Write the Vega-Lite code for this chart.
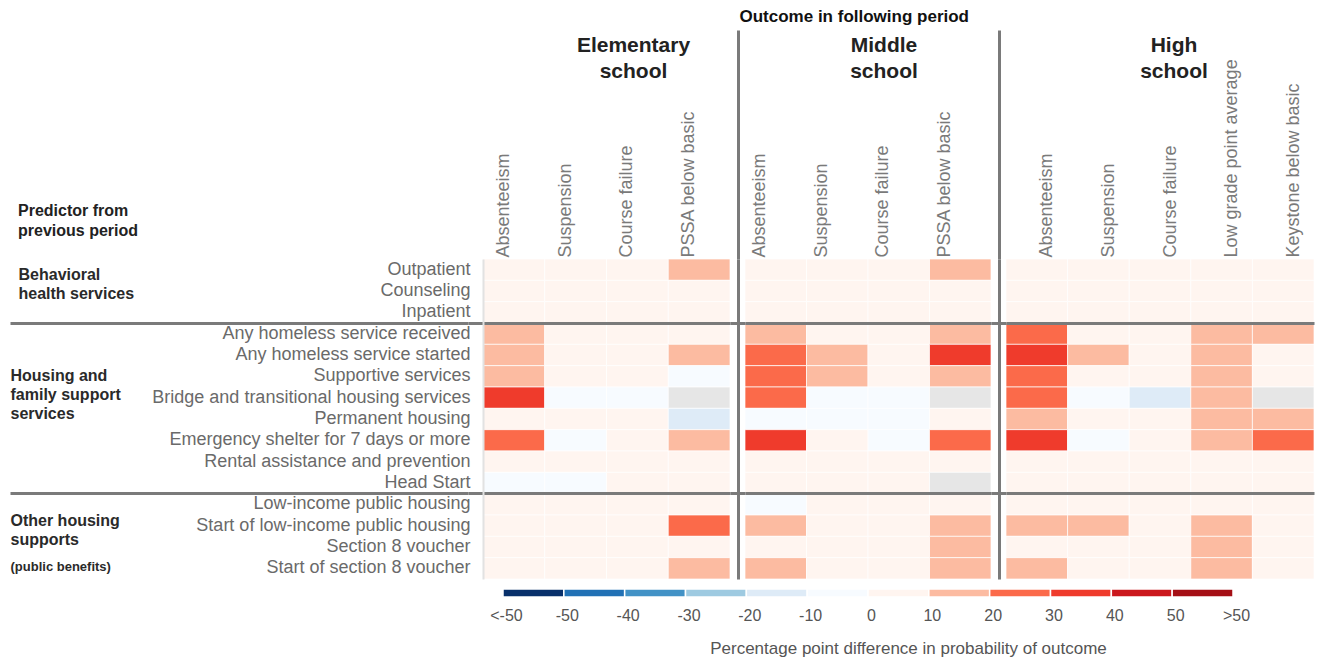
{
  "$schema": "https://vega.github.io/schema/vega-lite/v6.json",
  "padding": {"left": 10, "top": 7, "right": 5, "bottom": 2},
  "background": "white",
  "config": {
    "font": "Liberation Sans",
    "view": {"stroke": null}
  },
  "title": {
    "text": "Outcome in following period",
    "fontSize": 17,
    "fontWeight": "bold",
    "color": "#111111",
    "anchor": "middle",
    "dx": 192,
    "offset": 3
  },
  "datasets": {
    "cells": [
      {"level": "Elementary", "predictor": "Outpatient", "outcome": "Absenteeism", "pp": 4},
      {"level": "Elementary", "predictor": "Outpatient", "outcome": "Suspension", "pp": 4},
      {"level": "Elementary", "predictor": "Outpatient", "outcome": "Course failure", "pp": 4},
      {"level": "Elementary", "predictor": "Outpatient", "outcome": "PSSA below basic", "pp": 15},
      {"level": "Elementary", "predictor": "Counseling", "outcome": "Absenteeism", "pp": 4},
      {"level": "Elementary", "predictor": "Counseling", "outcome": "Suspension", "pp": 4},
      {"level": "Elementary", "predictor": "Counseling", "outcome": "Course failure", "pp": 4},
      {"level": "Elementary", "predictor": "Counseling", "outcome": "PSSA below basic", "pp": 4},
      {"level": "Elementary", "predictor": "Inpatient", "outcome": "Absenteeism", "pp": 4},
      {"level": "Elementary", "predictor": "Inpatient", "outcome": "Suspension", "pp": 4},
      {"level": "Elementary", "predictor": "Inpatient", "outcome": "Course failure", "pp": 4},
      {"level": "Elementary", "predictor": "Inpatient", "outcome": "PSSA below basic", "pp": 4},
      {"level": "Elementary", "predictor": "Any homeless service received", "outcome": "Absenteeism", "pp": 15},
      {"level": "Elementary", "predictor": "Any homeless service received", "outcome": "Suspension", "pp": 4},
      {"level": "Elementary", "predictor": "Any homeless service received", "outcome": "Course failure", "pp": 4},
      {"level": "Elementary", "predictor": "Any homeless service received", "outcome": "PSSA below basic", "pp": 4},
      {"level": "Elementary", "predictor": "Any homeless service started", "outcome": "Absenteeism", "pp": 15},
      {"level": "Elementary", "predictor": "Any homeless service started", "outcome": "Suspension", "pp": 4},
      {"level": "Elementary", "predictor": "Any homeless service started", "outcome": "Course failure", "pp": 4},
      {"level": "Elementary", "predictor": "Any homeless service started", "outcome": "PSSA below basic", "pp": 15},
      {"level": "Elementary", "predictor": "Supportive services", "outcome": "Absenteeism", "pp": 15},
      {"level": "Elementary", "predictor": "Supportive services", "outcome": "Suspension", "pp": 4},
      {"level": "Elementary", "predictor": "Supportive services", "outcome": "Course failure", "pp": 4},
      {"level": "Elementary", "predictor": "Supportive services", "outcome": "PSSA below basic", "pp": -4},
      {"level": "Elementary", "predictor": "Bridge and transitional housing services", "outcome": "Absenteeism", "pp": 35},
      {"level": "Elementary", "predictor": "Bridge and transitional housing services", "outcome": "Suspension", "pp": -4},
      {"level": "Elementary", "predictor": "Bridge and transitional housing services", "outcome": "Course failure", "pp": -4},
      {"level": "Elementary", "predictor": "Bridge and transitional housing services", "outcome": "PSSA below basic", "pp": null},
      {"level": "Elementary", "predictor": "Permanent housing", "outcome": "Absenteeism", "pp": 4},
      {"level": "Elementary", "predictor": "Permanent housing", "outcome": "Suspension", "pp": 4},
      {"level": "Elementary", "predictor": "Permanent housing", "outcome": "Course failure", "pp": 4},
      {"level": "Elementary", "predictor": "Permanent housing", "outcome": "PSSA below basic", "pp": -15},
      {"level": "Elementary", "predictor": "Emergency shelter for 7 days or more", "outcome": "Absenteeism", "pp": 25},
      {"level": "Elementary", "predictor": "Emergency shelter for 7 days or more", "outcome": "Suspension", "pp": -4},
      {"level": "Elementary", "predictor": "Emergency shelter for 7 days or more", "outcome": "Course failure", "pp": 4},
      {"level": "Elementary", "predictor": "Emergency shelter for 7 days or more", "outcome": "PSSA below basic", "pp": 15},
      {"level": "Elementary", "predictor": "Rental assistance and prevention", "outcome": "Absenteeism", "pp": 4},
      {"level": "Elementary", "predictor": "Rental assistance and prevention", "outcome": "Suspension", "pp": 4},
      {"level": "Elementary", "predictor": "Rental assistance and prevention", "outcome": "Course failure", "pp": 4},
      {"level": "Elementary", "predictor": "Rental assistance and prevention", "outcome": "PSSA below basic", "pp": 4},
      {"level": "Elementary", "predictor": "Head Start", "outcome": "Absenteeism", "pp": -4},
      {"level": "Elementary", "predictor": "Head Start", "outcome": "Suspension", "pp": -4},
      {"level": "Elementary", "predictor": "Head Start", "outcome": "Course failure", "pp": 4},
      {"level": "Elementary", "predictor": "Head Start", "outcome": "PSSA below basic", "pp": 4},
      {"level": "Elementary", "predictor": "Low-income public housing", "outcome": "Absenteeism", "pp": 4},
      {"level": "Elementary", "predictor": "Low-income public housing", "outcome": "Suspension", "pp": 4},
      {"level": "Elementary", "predictor": "Low-income public housing", "outcome": "Course failure", "pp": 4},
      {"level": "Elementary", "predictor": "Low-income public housing", "outcome": "PSSA below basic", "pp": 4},
      {"level": "Elementary", "predictor": "Start of low-income public housing", "outcome": "Absenteeism", "pp": 4},
      {"level": "Elementary", "predictor": "Start of low-income public housing", "outcome": "Suspension", "pp": 4},
      {"level": "Elementary", "predictor": "Start of low-income public housing", "outcome": "Course failure", "pp": 4},
      {"level": "Elementary", "predictor": "Start of low-income public housing", "outcome": "PSSA below basic", "pp": 25},
      {"level": "Elementary", "predictor": "Section 8 voucher", "outcome": "Absenteeism", "pp": 4},
      {"level": "Elementary", "predictor": "Section 8 voucher", "outcome": "Suspension", "pp": 4},
      {"level": "Elementary", "predictor": "Section 8 voucher", "outcome": "Course failure", "pp": 4},
      {"level": "Elementary", "predictor": "Section 8 voucher", "outcome": "PSSA below basic", "pp": 4},
      {"level": "Elementary", "predictor": "Start of section 8 voucher", "outcome": "Absenteeism", "pp": 4},
      {"level": "Elementary", "predictor": "Start of section 8 voucher", "outcome": "Suspension", "pp": 4},
      {"level": "Elementary", "predictor": "Start of section 8 voucher", "outcome": "Course failure", "pp": 4},
      {"level": "Elementary", "predictor": "Start of section 8 voucher", "outcome": "PSSA below basic", "pp": 15},

      {"level": "Middle", "predictor": "Outpatient", "outcome": "Absenteeism", "pp": 4},
      {"level": "Middle", "predictor": "Outpatient", "outcome": "Suspension", "pp": 4},
      {"level": "Middle", "predictor": "Outpatient", "outcome": "Course failure", "pp": 4},
      {"level": "Middle", "predictor": "Outpatient", "outcome": "PSSA below basic", "pp": 15},
      {"level": "Middle", "predictor": "Counseling", "outcome": "Absenteeism", "pp": 4},
      {"level": "Middle", "predictor": "Counseling", "outcome": "Suspension", "pp": 4},
      {"level": "Middle", "predictor": "Counseling", "outcome": "Course failure", "pp": 4},
      {"level": "Middle", "predictor": "Counseling", "outcome": "PSSA below basic", "pp": 4},
      {"level": "Middle", "predictor": "Inpatient", "outcome": "Absenteeism", "pp": 4},
      {"level": "Middle", "predictor": "Inpatient", "outcome": "Suspension", "pp": 4},
      {"level": "Middle", "predictor": "Inpatient", "outcome": "Course failure", "pp": 4},
      {"level": "Middle", "predictor": "Inpatient", "outcome": "PSSA below basic", "pp": 4},
      {"level": "Middle", "predictor": "Any homeless service received", "outcome": "Absenteeism", "pp": 15},
      {"level": "Middle", "predictor": "Any homeless service received", "outcome": "Suspension", "pp": 4},
      {"level": "Middle", "predictor": "Any homeless service received", "outcome": "Course failure", "pp": 4},
      {"level": "Middle", "predictor": "Any homeless service received", "outcome": "PSSA below basic", "pp": 15},
      {"level": "Middle", "predictor": "Any homeless service started", "outcome": "Absenteeism", "pp": 25},
      {"level": "Middle", "predictor": "Any homeless service started", "outcome": "Suspension", "pp": 15},
      {"level": "Middle", "predictor": "Any homeless service started", "outcome": "Course failure", "pp": 4},
      {"level": "Middle", "predictor": "Any homeless service started", "outcome": "PSSA below basic", "pp": 35},
      {"level": "Middle", "predictor": "Supportive services", "outcome": "Absenteeism", "pp": 25},
      {"level": "Middle", "predictor": "Supportive services", "outcome": "Suspension", "pp": 15},
      {"level": "Middle", "predictor": "Supportive services", "outcome": "Course failure", "pp": 4},
      {"level": "Middle", "predictor": "Supportive services", "outcome": "PSSA below basic", "pp": 15},
      {"level": "Middle", "predictor": "Bridge and transitional housing services", "outcome": "Absenteeism", "pp": 25},
      {"level": "Middle", "predictor": "Bridge and transitional housing services", "outcome": "Suspension", "pp": -4},
      {"level": "Middle", "predictor": "Bridge and transitional housing services", "outcome": "Course failure", "pp": -4},
      {"level": "Middle", "predictor": "Bridge and transitional housing services", "outcome": "PSSA below basic", "pp": null},
      {"level": "Middle", "predictor": "Permanent housing", "outcome": "Absenteeism", "pp": -4},
      {"level": "Middle", "predictor": "Permanent housing", "outcome": "Suspension", "pp": -4},
      {"level": "Middle", "predictor": "Permanent housing", "outcome": "Course failure", "pp": -4},
      {"level": "Middle", "predictor": "Permanent housing", "outcome": "PSSA below basic", "pp": 4},
      {"level": "Middle", "predictor": "Emergency shelter for 7 days or more", "outcome": "Absenteeism", "pp": 35},
      {"level": "Middle", "predictor": "Emergency shelter for 7 days or more", "outcome": "Suspension", "pp": 4},
      {"level": "Middle", "predictor": "Emergency shelter for 7 days or more", "outcome": "Course failure", "pp": -4},
      {"level": "Middle", "predictor": "Emergency shelter for 7 days or more", "outcome": "PSSA below basic", "pp": 25},
      {"level": "Middle", "predictor": "Rental assistance and prevention", "outcome": "Absenteeism", "pp": 4},
      {"level": "Middle", "predictor": "Rental assistance and prevention", "outcome": "Suspension", "pp": 4},
      {"level": "Middle", "predictor": "Rental assistance and prevention", "outcome": "Course failure", "pp": 4},
      {"level": "Middle", "predictor": "Rental assistance and prevention", "outcome": "PSSA below basic", "pp": 4},
      {"level": "Middle", "predictor": "Head Start", "outcome": "Absenteeism", "pp": 4},
      {"level": "Middle", "predictor": "Head Start", "outcome": "Suspension", "pp": 4},
      {"level": "Middle", "predictor": "Head Start", "outcome": "Course failure", "pp": 4},
      {"level": "Middle", "predictor": "Head Start", "outcome": "PSSA below basic", "pp": null},
      {"level": "Middle", "predictor": "Low-income public housing", "outcome": "Absenteeism", "pp": -4},
      {"level": "Middle", "predictor": "Low-income public housing", "outcome": "Suspension", "pp": 4},
      {"level": "Middle", "predictor": "Low-income public housing", "outcome": "Course failure", "pp": 4},
      {"level": "Middle", "predictor": "Low-income public housing", "outcome": "PSSA below basic", "pp": 4},
      {"level": "Middle", "predictor": "Start of low-income public housing", "outcome": "Absenteeism", "pp": 15},
      {"level": "Middle", "predictor": "Start of low-income public housing", "outcome": "Suspension", "pp": 4},
      {"level": "Middle", "predictor": "Start of low-income public housing", "outcome": "Course failure", "pp": 4},
      {"level": "Middle", "predictor": "Start of low-income public housing", "outcome": "PSSA below basic", "pp": 15},
      {"level": "Middle", "predictor": "Section 8 voucher", "outcome": "Absenteeism", "pp": 4},
      {"level": "Middle", "predictor": "Section 8 voucher", "outcome": "Suspension", "pp": 4},
      {"level": "Middle", "predictor": "Section 8 voucher", "outcome": "Course failure", "pp": 4},
      {"level": "Middle", "predictor": "Section 8 voucher", "outcome": "PSSA below basic", "pp": 15},
      {"level": "Middle", "predictor": "Start of section 8 voucher", "outcome": "Absenteeism", "pp": 15},
      {"level": "Middle", "predictor": "Start of section 8 voucher", "outcome": "Suspension", "pp": 4},
      {"level": "Middle", "predictor": "Start of section 8 voucher", "outcome": "Course failure", "pp": 4},
      {"level": "Middle", "predictor": "Start of section 8 voucher", "outcome": "PSSA below basic", "pp": 15},

      {"level": "High", "predictor": "Outpatient", "outcome": "Absenteeism", "pp": 4},
      {"level": "High", "predictor": "Outpatient", "outcome": "Suspension", "pp": 4},
      {"level": "High", "predictor": "Outpatient", "outcome": "Course failure", "pp": 4},
      {"level": "High", "predictor": "Outpatient", "outcome": "Low grade point average", "pp": 4},
      {"level": "High", "predictor": "Outpatient", "outcome": "Keystone below basic", "pp": 4},
      {"level": "High", "predictor": "Counseling", "outcome": "Absenteeism", "pp": 4},
      {"level": "High", "predictor": "Counseling", "outcome": "Suspension", "pp": 4},
      {"level": "High", "predictor": "Counseling", "outcome": "Course failure", "pp": 4},
      {"level": "High", "predictor": "Counseling", "outcome": "Low grade point average", "pp": 4},
      {"level": "High", "predictor": "Counseling", "outcome": "Keystone below basic", "pp": 4},
      {"level": "High", "predictor": "Inpatient", "outcome": "Absenteeism", "pp": 4},
      {"level": "High", "predictor": "Inpatient", "outcome": "Suspension", "pp": 4},
      {"level": "High", "predictor": "Inpatient", "outcome": "Course failure", "pp": 4},
      {"level": "High", "predictor": "Inpatient", "outcome": "Low grade point average", "pp": 4},
      {"level": "High", "predictor": "Inpatient", "outcome": "Keystone below basic", "pp": 4},
      {"level": "High", "predictor": "Any homeless service received", "outcome": "Absenteeism", "pp": 25},
      {"level": "High", "predictor": "Any homeless service received", "outcome": "Suspension", "pp": 4},
      {"level": "High", "predictor": "Any homeless service received", "outcome": "Course failure", "pp": 4},
      {"level": "High", "predictor": "Any homeless service received", "outcome": "Low grade point average", "pp": 15},
      {"level": "High", "predictor": "Any homeless service received", "outcome": "Keystone below basic", "pp": 15},
      {"level": "High", "predictor": "Any homeless service started", "outcome": "Absenteeism", "pp": 35},
      {"level": "High", "predictor": "Any homeless service started", "outcome": "Suspension", "pp": 15},
      {"level": "High", "predictor": "Any homeless service started", "outcome": "Course failure", "pp": 4},
      {"level": "High", "predictor": "Any homeless service started", "outcome": "Low grade point average", "pp": 15},
      {"level": "High", "predictor": "Any homeless service started", "outcome": "Keystone below basic", "pp": 4},
      {"level": "High", "predictor": "Supportive services", "outcome": "Absenteeism", "pp": 25},
      {"level": "High", "predictor": "Supportive services", "outcome": "Suspension", "pp": 4},
      {"level": "High", "predictor": "Supportive services", "outcome": "Course failure", "pp": 4},
      {"level": "High", "predictor": "Supportive services", "outcome": "Low grade point average", "pp": 15},
      {"level": "High", "predictor": "Supportive services", "outcome": "Keystone below basic", "pp": 4},
      {"level": "High", "predictor": "Bridge and transitional housing services", "outcome": "Absenteeism", "pp": 25},
      {"level": "High", "predictor": "Bridge and transitional housing services", "outcome": "Suspension", "pp": -4},
      {"level": "High", "predictor": "Bridge and transitional housing services", "outcome": "Course failure", "pp": -15},
      {"level": "High", "predictor": "Bridge and transitional housing services", "outcome": "Low grade point average", "pp": 15},
      {"level": "High", "predictor": "Bridge and transitional housing services", "outcome": "Keystone below basic", "pp": null},
      {"level": "High", "predictor": "Permanent housing", "outcome": "Absenteeism", "pp": 15},
      {"level": "High", "predictor": "Permanent housing", "outcome": "Suspension", "pp": 4},
      {"level": "High", "predictor": "Permanent housing", "outcome": "Course failure", "pp": 4},
      {"level": "High", "predictor": "Permanent housing", "outcome": "Low grade point average", "pp": 15},
      {"level": "High", "predictor": "Permanent housing", "outcome": "Keystone below basic", "pp": 15},
      {"level": "High", "predictor": "Emergency shelter for 7 days or more", "outcome": "Absenteeism", "pp": 35},
      {"level": "High", "predictor": "Emergency shelter for 7 days or more", "outcome": "Suspension", "pp": -4},
      {"level": "High", "predictor": "Emergency shelter for 7 days or more", "outcome": "Course failure", "pp": 4},
      {"level": "High", "predictor": "Emergency shelter for 7 days or more", "outcome": "Low grade point average", "pp": 15},
      {"level": "High", "predictor": "Emergency shelter for 7 days or more", "outcome": "Keystone below basic", "pp": 25},
      {"level": "High", "predictor": "Rental assistance and prevention", "outcome": "Absenteeism", "pp": 4},
      {"level": "High", "predictor": "Rental assistance and prevention", "outcome": "Suspension", "pp": 4},
      {"level": "High", "predictor": "Rental assistance and prevention", "outcome": "Course failure", "pp": 4},
      {"level": "High", "predictor": "Rental assistance and prevention", "outcome": "Low grade point average", "pp": 4},
      {"level": "High", "predictor": "Rental assistance and prevention", "outcome": "Keystone below basic", "pp": 4},
      {"level": "High", "predictor": "Head Start", "outcome": "Absenteeism", "pp": 4},
      {"level": "High", "predictor": "Head Start", "outcome": "Suspension", "pp": 4},
      {"level": "High", "predictor": "Head Start", "outcome": "Course failure", "pp": 4},
      {"level": "High", "predictor": "Head Start", "outcome": "Low grade point average", "pp": 4},
      {"level": "High", "predictor": "Head Start", "outcome": "Keystone below basic", "pp": 4},
      {"level": "High", "predictor": "Low-income public housing", "outcome": "Absenteeism", "pp": 4},
      {"level": "High", "predictor": "Low-income public housing", "outcome": "Suspension", "pp": 4},
      {"level": "High", "predictor": "Low-income public housing", "outcome": "Course failure", "pp": 4},
      {"level": "High", "predictor": "Low-income public housing", "outcome": "Low grade point average", "pp": 4},
      {"level": "High", "predictor": "Low-income public housing", "outcome": "Keystone below basic", "pp": 4},
      {"level": "High", "predictor": "Start of low-income public housing", "outcome": "Absenteeism", "pp": 15},
      {"level": "High", "predictor": "Start of low-income public housing", "outcome": "Suspension", "pp": 15},
      {"level": "High", "predictor": "Start of low-income public housing", "outcome": "Course failure", "pp": 4},
      {"level": "High", "predictor": "Start of low-income public housing", "outcome": "Low grade point average", "pp": 15},
      {"level": "High", "predictor": "Start of low-income public housing", "outcome": "Keystone below basic", "pp": 4},
      {"level": "High", "predictor": "Section 8 voucher", "outcome": "Absenteeism", "pp": 4},
      {"level": "High", "predictor": "Section 8 voucher", "outcome": "Suspension", "pp": 4},
      {"level": "High", "predictor": "Section 8 voucher", "outcome": "Course failure", "pp": 4},
      {"level": "High", "predictor": "Section 8 voucher", "outcome": "Low grade point average", "pp": 15},
      {"level": "High", "predictor": "Section 8 voucher", "outcome": "Keystone below basic", "pp": 4},
      {"level": "High", "predictor": "Start of section 8 voucher", "outcome": "Absenteeism", "pp": 15},
      {"level": "High", "predictor": "Start of section 8 voucher", "outcome": "Suspension", "pp": 4},
      {"level": "High", "predictor": "Start of section 8 voucher", "outcome": "Course failure", "pp": 4},
      {"level": "High", "predictor": "Start of section 8 voucher", "outcome": "Low grade point average", "pp": 15},
      {"level": "High", "predictor": "Start of section 8 voucher", "outcome": "Keystone below basic", "pp": 4}
    ],
    "key": [
      {"lo": -60, "hi": -50, "pp": -55},
      {"lo": -50, "hi": -40, "pp": -45},
      {"lo": -40, "hi": -30, "pp": -35},
      {"lo": -30, "hi": -20, "pp": -25},
      {"lo": -20, "hi": -10, "pp": -15},
      {"lo": -10, "hi": 0, "pp": -5},
      {"lo": 0, "hi": 10, "pp": 5},
      {"lo": 10, "hi": 20, "pp": 15},
      {"lo": 20, "hi": 30, "pp": 25},
      {"lo": 30, "hi": 40, "pp": 35},
      {"lo": 40, "hi": 50, "pp": 45},
      {"lo": 50, "hi": 60, "pp": 55}
    ]
  },
  "columns": 4,
  "bounds": "flush",
  "spacing": {"row": 10, "column": 15},
  "concat": [
    {
      "width": 458,
      "height": 320,
      "title": {
        "text": ["Predictor from", "previous period"],
        "anchor": "start",
        "frame": "group",
        "fontSize": 16,
        "fontWeight": "bold",
        "color": "#222222",
        "lineHeight": 20,
        "dx": 8,
        "offset": 20
      },
      "data": {"name": "cells"},
      "transform": [{"filter": "datum.level === 'Elementary'"}],
      "mark": {"type": "rect", "opacity": 0},
      "encoding": {
        "y": {
          "field": "predictor",
          "type": "nominal",
          "scale": {
            "domain": ["Outpatient", "Counseling", "Inpatient", "Any homeless service received", "Any homeless service started", "Supportive services", "Bridge and transitional housing services", "Permanent housing", "Emergency shelter for 7 days or more", "Rental assistance and prevention", "Head Start", "Low-income public housing", "Start of low-income public housing", "Section 8 voucher", "Start of section 8 voucher"],
            "paddingInner": 0,
            "paddingOuter": 0
          },
          "axis": {
            "orient": "left",
            "title": null,
            "domain": false,
            "ticks": false,
            "bandPosition": 0,
            "labelAlign": "left",
            "labelBaseline": "middle",
            "labelFontWeight": "bold",
            "labelColor": "#2a2a2a",
            "labelLimit": 400,
            "labelLineHeight": 19,
            "labelFontSize": {"condition": {"test": "datum.value === 'Start of section 8 voucher'", "value": 13}, "value": 16},
            "labelPadding": {"condition": {"test": "datum.value === 'Outpatient'", "value": -8}, "value": 0},
            "labelOffset": {
              "condition": [
                {"test": "datum.value === 'Outpatient'", "value": 5.5},
                {"test": "datum.value === 'Supportive services'", "value": 0},
                {"test": "datum.value === 'Start of low-income public housing'", "value": -5},
                {"test": "datum.value === 'Start of section 8 voucher'", "value": -1}
              ],
              "value": 0
            },
            "labelExpr": "datum.value === 'Outpatient' ? ['Behavioral', 'health services'] : datum.value === 'Supportive services' ? ['Housing and', 'family support', 'services'] : datum.value === 'Start of low-income public housing' ? ['Other housing', 'supports'] : datum.value === 'Start of section 8 voucher' ? '(public benefits)' : ''",
            "grid": true,
            "gridWidth": 3,
            "gridColor": {"condition": {"test": "datum.value === 'Any homeless service received' || datum.value === 'Low-income public housing'", "value": "#7a7a7a"}, "value": "transparent"},
            "zindex": 1
          }
        }
      }
    },
    {
      "width": 247,
      "height": 320,
      "title": {"text": ["Elementary", "school"], "frame": "group", "anchor": "middle", "fontSize": 21, "fontWeight": "bold", "color": "#222222", "lineHeight": 26, "dx": 27, "offset": 28},
      "data": {"name": "cells"},
      "transform": [{"filter": "datum.level === 'Elementary'"}],
      "mark": {"type": "rect", "invalid": null, "stroke": "#ffffff", "strokeWidth": 1, "strokeOpacity": 0.7},
      "encoding": {
        "x": {
          "field": "outcome",
          "type": "nominal",
          "scale": {"domain": ["Absenteeism", "Suspension", "Course failure", "PSSA below basic"], "paddingInner": 0, "paddingOuter": 0},
          "axis": {"orient": "top", "title": null, "domain": false, "ticks": false, "grid": false, "labelAngle": -90, "labelAlign": "left", "labelBaseline": "middle", "labelPadding": 2, "labelOffset": -10, "labelFontSize": 18, "labelColor": "#7a7a7a", "labelLimit": 300}
        },
        "y": {
          "field": "predictor",
          "type": "nominal",
          "scale": {
            "domain": ["Outpatient", "Counseling", "Inpatient", "Any homeless service received", "Any homeless service started", "Supportive services", "Bridge and transitional housing services", "Permanent housing", "Emergency shelter for 7 days or more", "Rental assistance and prevention", "Head Start", "Low-income public housing", "Start of low-income public housing", "Section 8 voucher", "Start of section 8 voucher"],
            "paddingInner": 0,
            "paddingOuter": 0
          },
          "axis": {
            "orient": "left",
            "title": null,
            "domain": true,
            "domainColor": "#e2e2e2",
            "domainWidth": 2,
            "bandPosition": 0,
            "ticks": true,
            "tickSize": 15,
            "tickWidth": 3,
            "tickColor": {"condition": {"test": "datum.value === 'Any homeless service received' || datum.value === 'Low-income public housing'", "value": "#7a7a7a"}, "value": "transparent"},
            "grid": true,
            "gridWidth": 3,
            "gridColor": {"condition": {"test": "datum.value === 'Any homeless service received' || datum.value === 'Low-income public housing'", "value": "#7a7a7a"}, "value": "transparent"},
            "labelFontSize": 18,
            "labelColor": "#6a6a6a",
            "labelPadding": -2,
            "labelLimit": 400,
            "zindex": 1
          }
        },
        "fill": {
          "condition": {"test": "datum.pp === null", "value": "#e6e6e6"},
          "field": "pp",
          "type": "quantitative",
          "scale": {"type": "threshold", "domain": [-50, -40, -30, -20, -10, 0, 10, 20, 30, 40, 50], "range": ["#08306b", "#2171b5", "#4292c6", "#9ecae1", "#deebf7", "#f7fbff", "#fff5f0", "#fcbba1", "#fb6a4a", "#ef3b2c", "#cb181d", "#a50f15"]},
          "legend": null
        }
      }
    },
    {
      "width": 246,
      "height": 320,
      "title": {"text": ["Middle", "school"], "frame": "group", "anchor": "middle", "fontSize": 21, "fontWeight": "bold", "color": "#222222", "lineHeight": 26, "dx": 16, "offset": -53},
      "data": {"name": "cells"},
      "transform": [{"filter": "datum.level === 'Middle'"}],
      "mark": {"type": "rect", "invalid": null, "stroke": "#ffffff", "strokeWidth": 1, "strokeOpacity": 0.7},
      "encoding": {
        "x": {
          "field": "outcome",
          "type": "nominal",
          "scale": {"domain": ["Absenteeism", "Suspension", "Course failure", "PSSA below basic"], "paddingInner": 0, "paddingOuter": 0},
          "axis": {
            "orient": "top", "title": null, "domain": false,
            "bandPosition": 0, "tickOffset": -7.5,
            "ticks": true, "tickSize": 229, "tickWidth": 3,
            "tickColor": {"condition": {"test": "datum.value === 'Absenteeism'", "value": "#7a7a7a"}, "value": "transparent"},
            "grid": true, "gridWidth": 3,
            "gridColor": {"condition": {"test": "datum.value === 'Absenteeism'", "value": "#7a7a7a"}, "value": "transparent"},
            "labelAngle": -90, "labelAlign": "left", "labelBaseline": "middle", "labelPadding": -227, "labelOffset": -8.5,
            "labelFontSize": 18, "labelColor": "#7a7a7a", "labelLimit": 300,
            "zindex": 1
          }
        },
        "y": {
          "field": "predictor",
          "type": "nominal",
          "scale": {
            "domain": ["Outpatient", "Counseling", "Inpatient", "Any homeless service received", "Any homeless service started", "Supportive services", "Bridge and transitional housing services", "Permanent housing", "Emergency shelter for 7 days or more", "Rental assistance and prevention", "Head Start", "Low-income public housing", "Start of low-income public housing", "Section 8 voucher", "Start of section 8 voucher"],
            "paddingInner": 0,
            "paddingOuter": 0
          },
          "axis": {
            "orient": "left", "title": null, "domain": false, "labels": false,
            "bandPosition": 0,
            "ticks": true, "tickSize": 15, "tickWidth": 3,
            "tickColor": {"condition": {"test": "datum.value === 'Any homeless service received' || datum.value === 'Low-income public housing'", "value": "#7a7a7a"}, "value": "transparent"},
            "grid": true, "gridWidth": 3,
            "gridColor": {"condition": {"test": "datum.value === 'Any homeless service received' || datum.value === 'Low-income public housing'", "value": "#7a7a7a"}, "value": "transparent"},
            "zindex": 1
          }
        },
        "fill": {
          "condition": {"test": "datum.pp === null", "value": "#e6e6e6"},
          "field": "pp",
          "type": "quantitative",
          "scale": {"type": "threshold", "domain": [-50, -40, -30, -20, -10, 0, 10, 20, 30, 40, 50], "range": ["#08306b", "#2171b5", "#4292c6", "#9ecae1", "#deebf7", "#f7fbff", "#fff5f0", "#fcbba1", "#fb6a4a", "#ef3b2c", "#cb181d", "#a50f15"]},
          "legend": null
        }
      }
    },
    {
      "width": 308,
      "height": 320,
      "title": {"text": ["High", "school"], "frame": "group", "anchor": "middle", "fontSize": 21, "fontWeight": "bold", "color": "#222222", "lineHeight": 26, "dx": 14, "offset": -53},
      "data": {"name": "cells"},
      "transform": [{"filter": "datum.level === 'High'"}],
      "mark": {"type": "rect", "invalid": null, "stroke": "#ffffff", "strokeWidth": 1, "strokeOpacity": 0.7},
      "encoding": {
        "x": {
          "field": "outcome",
          "type": "nominal",
          "scale": {"domain": ["Absenteeism", "Suspension", "Course failure", "Low grade point average", "Keystone below basic"], "paddingInner": 0, "paddingOuter": 0},
          "axis": {
            "orient": "top", "title": null, "domain": false,
            "bandPosition": 0, "tickOffset": -7.5,
            "ticks": true, "tickSize": 229, "tickWidth": 3,
            "tickColor": {"condition": {"test": "datum.value === 'Absenteeism'", "value": "#7a7a7a"}, "value": "transparent"},
            "grid": true, "gridWidth": 3,
            "gridColor": {"condition": {"test": "datum.value === 'Absenteeism'", "value": "#7a7a7a"}, "value": "transparent"},
            "labelAngle": -90, "labelAlign": "left", "labelBaseline": "middle", "labelPadding": -227, "labelOffset": 17.5,
            "labelFontSize": 18, "labelColor": "#7a7a7a", "labelLimit": 300,
            "zindex": 1
          }
        },
        "y": {
          "field": "predictor",
          "type": "nominal",
          "scale": {
            "domain": ["Outpatient", "Counseling", "Inpatient", "Any homeless service received", "Any homeless service started", "Supportive services", "Bridge and transitional housing services", "Permanent housing", "Emergency shelter for 7 days or more", "Rental assistance and prevention", "Head Start", "Low-income public housing", "Start of low-income public housing", "Section 8 voucher", "Start of section 8 voucher"],
            "paddingInner": 0,
            "paddingOuter": 0
          },
          "axis": {
            "orient": "left", "title": null, "domain": false, "labels": false,
            "bandPosition": 0,
            "ticks": true, "tickSize": 15, "tickWidth": 3,
            "tickColor": {"condition": {"test": "datum.value === 'Any homeless service received' || datum.value === 'Low-income public housing'", "value": "#7a7a7a"}, "value": "transparent"},
            "grid": true, "gridWidth": 3,
            "gridColor": {"condition": {"test": "datum.value === 'Any homeless service received' || datum.value === 'Low-income public housing'", "value": "#7a7a7a"}, "value": "transparent"},
            "zindex": 1
          }
        },
        "fill": {
          "condition": {"test": "datum.pp === null", "value": "#e6e6e6"},
          "field": "pp",
          "type": "quantitative",
          "scale": {"type": "threshold", "domain": [-50, -40, -30, -20, -10, 0, 10, 20, 30, 40, 50], "range": ["#08306b", "#2171b5", "#4292c6", "#9ecae1", "#deebf7", "#f7fbff", "#fff5f0", "#fcbba1", "#fb6a4a", "#ef3b2c", "#cb181d", "#a50f15"]},
          "legend": null
        }
      }
    },
    {
      "width": 458,
      "height": 8,
      "data": {"name": "key"},
      "mark": {"type": "rect", "stroke": "#ffffff", "strokeWidth": 1.5},
      "encoding": {
        "x": {
          "field": "lo",
          "type": "quantitative",
          "scale": {"domain": [-60, 60], "range": [493, 1223], "nice": false, "zero": false},
          "axis": {
            "orient": "bottom",
            "values": [-60, -50, -40, -30, -20, -10, 0, 10, 20, 30, 40, 50, 60],
            "labelExpr": "datum.value === -60 ? '<-50' : datum.value === 60 ? '>50' : '' + datum.value",
            "labelFlush": false,
            "domain": false, "ticks": false, "grid": false,
            "labelFontSize": 16, "labelColor": "#555555", "labelPadding": 10, "labelOffset": 3,
            "title": "Percentage point difference in probability of outcome",
            "titleFontSize": 17, "titleFontWeight": "normal", "titleColor": "#555555", "titlePadding": 17, "titleX": 898
          }
        },
        "x2": {"field": "hi"},
        "fill": {
          "field": "pp",
          "type": "quantitative",
          "scale": {"type": "threshold", "domain": [-50, -40, -30, -20, -10, 0, 10, 20, 30, 40, 50], "range": ["#08306b", "#2171b5", "#4292c6", "#9ecae1", "#deebf7", "#f7fbff", "#fff5f0", "#fcbba1", "#fb6a4a", "#ef3b2c", "#cb181d", "#a50f15"]},
          "legend": null
        }
      }
    }
  ]
}
